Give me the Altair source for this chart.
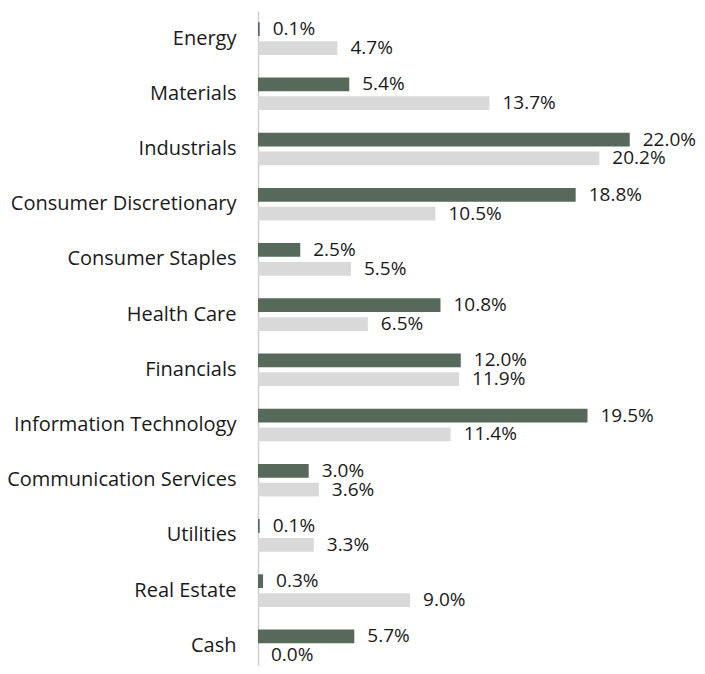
import altair as alt
import pandas as pd

categories = ["Energy", "Materials", "Industrials", "Consumer Discretionary",
              "Consumer Staples", "Health Care", "Financials",
              "Information Technology", "Communication Services", "Utilities",
              "Real Estate", "Cash"]
fund = [0.1, 5.4, 22.0, 18.8, 2.5, 10.8, 12.0, 19.5, 3.0, 0.1, 0.3, 5.7]
index = [4.7, 13.7, 20.2, 10.5, 5.5, 6.5, 11.9, 11.4, 3.6, 3.3, 9.0, 0.0]
series = ["Fund", "Index"]
colors = ["#56695a", "#d9d9d9"]

rows = []
for c, f, i in zip(categories, fund, index):
    rows.append({"category": c, "series": series[0], "value": f})
    rows.append({"category": c, "series": series[1], "value": i})
df = pd.DataFrame(rows)

y = alt.Y("category:N", sort=categories,
          scale=alt.Scale(range=[0, 662.4], paddingInner=0, paddingOuter=0),
          axis=alt.Axis(title=None, ticks=False, labelFont="Open Sans",
                        labelFontSize=20, labelColor="#1a1a1a", labelPadding=22,
                        domainColor="#d0d0d0", domainWidth=1.5, labelLimit=0))
yoff = alt.YOffset("series:N", sort=series,
                   scale=alt.Scale(paddingInner=0.27, paddingOuter=0.6))
x = alt.X("value:Q", scale=alt.Scale(domain=[0, 25.98], nice=False, zero=True), axis=None)

base = alt.Chart(df).transform_calculate(
    label="format(datum.value, '.1f') + '%'"
).encode(y=y, yOffset=yoff)

bars = base.mark_bar().encode(
    x=x,
    color=alt.Color("series:N", sort=series,
                    scale=alt.Scale(domain=series, range=colors), legend=None),
)
text = base.mark_text(align="left", baseline="middle", dx=13, dy=0,
                      font="Open Sans", fontSize=19, color="#1a1a1a").encode(
    x=x, text="label:N"
)

chart = alt.layer(bars, text).properties(
    width=439, height=655,
    autosize=alt.AutoSizeParams(type="none"),
    padding={"left": 250, "top": 3, "right": 0, "bottom": 0},
).configure_view(stroke=None)

chart.save("out.html", embed_options={"renderer": "svg", "actions": False})
